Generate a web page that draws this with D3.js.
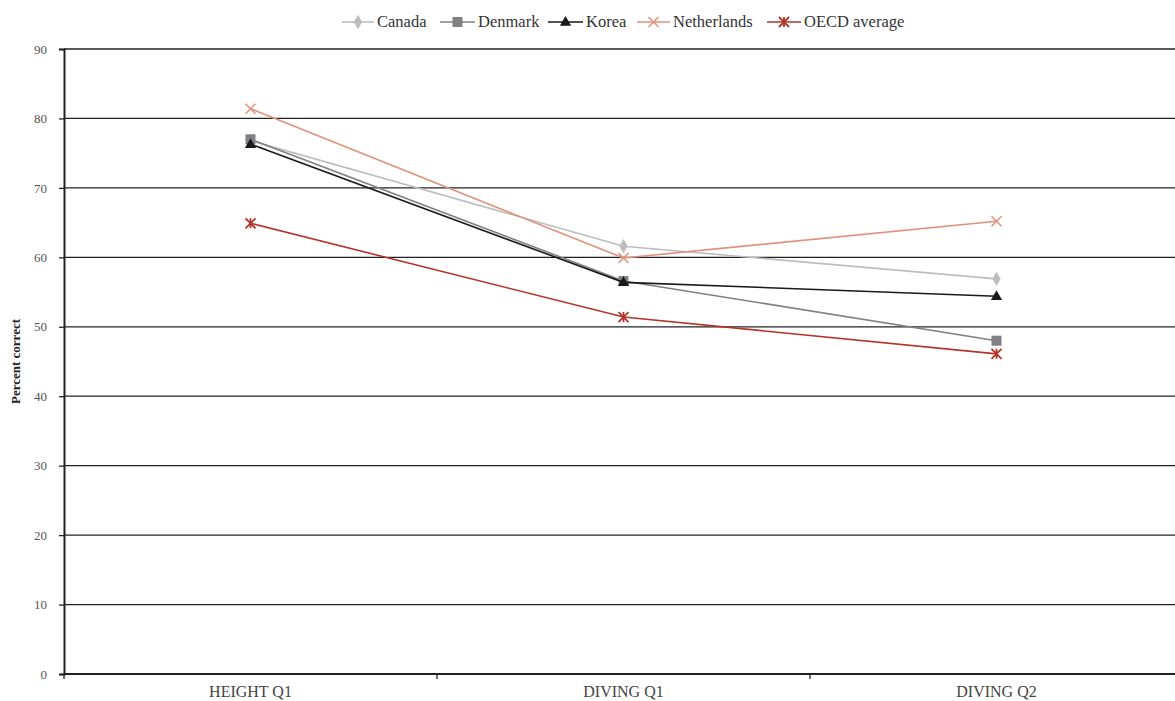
<!DOCTYPE html>
<html><head><meta charset="utf-8">
<script src="https://cdn.jsdelivr.net/npm/d3@7/dist/d3.min.js"></script>
<style>body{margin:0;background:#fff;} svg{display:block;} text{font-family:"Liberation Serif","DejaVu Serif",serif;}</style>
</head><body>
<script>
const categories = ["HEIGHT Q1","DIVING Q1","DIVING Q2"];
const seriesNames = ["Canada","Denmark","Korea","Netherlands","OECD average"];
const canada = [76.8, 61.6, 56.9];
const denmark = [77.0, 56.6, 48.0];
const korea = [76.3, 56.4, 54.4];
const netherlands = [81.4, 59.9, 65.2];
const oecd = [64.9, 51.4, 46.1];
const yTicks = [0,10,20,30,40,50,60,70,80,90];

const colors = ["#bdbdbd","#808085","#1a1a1a","#e2917c","#b5342a"];
const symbols = ["diamond","square","triangle","x","star"];
const data = [canada, denmark, korea, netherlands, oecd];
const FONT = '"Liberation Serif","DejaVu Serif",serif';

const W = 1175, H = 701;
const svg = d3.select("body").append("svg").attr("width",W).attr("height",H);
const mLeft = 64, mTop = 49, mBottom = 674;
const x = d3.scaleBand().domain(categories).range([mLeft, mLeft + 3*373]);
const y = d3.scaleLinear().domain([0,90]).range([mBottom, mTop]);

// gridlines
svg.append("g").selectAll("line").data(yTicks.filter(d=>d>0)).join("line")
  .attr("x1", mLeft).attr("x2", W).attr("y1", d=>y(d)).attr("y2", d=>y(d))
  .attr("stroke","#222").attr("stroke-width",1.3);

// y axis
const ya = svg.append("g").attr("transform",`translate(${mLeft},0)`)
  .call(d3.axisLeft(y).tickValues(yTicks).tickSize(5).tickPadding(12));
ya.select(".domain").attr("stroke","#222").attr("stroke-width",2);
ya.selectAll(".tick line").attr("stroke","#222").attr("stroke-width",1.3);
ya.selectAll("text").attr("font-size",13).attr("fill","#555").attr("font-family",FONT);

// x axis
const xa = svg.append("g").attr("transform",`translate(0,${mBottom})`)
  .call(d3.axisBottom(x).tickSize(0).tickPadding(12));
xa.select(".domain").remove();
xa.selectAll("text").attr("font-size",16).attr("fill","#444").attr("font-family",FONT);
svg.append("line").attr("x1",mLeft).attr("x2",W).attr("y1",mBottom).attr("y2",mBottom).attr("stroke","#222").attr("stroke-width",2);
svg.append("g").selectAll("line").data(categories).join("line")
  .attr("x1",d=>x(d)).attr("x2",d=>x(d)).attr("y1",mBottom).attr("y2",mBottom+5)
  .attr("stroke","#222").attr("stroke-width",1.3);

// y title
svg.append("text").attr("transform",`translate(20,${(mTop+mBottom)/2}) rotate(-90)`)
  .attr("text-anchor","middle").attr("font-size",13).attr("font-weight","bold").attr("fill","#222")
  .attr("font-family",FONT).text("Percent correct");

function marker(g, sym, color, cx, cy){
  if(sym==="diamond"){
    g.append("path").attr("d",d3.symbol(d3.symbolDiamond,60)()).attr("transform",`translate(${cx},${cy})`).attr("fill",color);
  } else if(sym==="square"){
    g.append("rect").attr("x",cx-5).attr("y",cy-5).attr("width",10).attr("height",10).attr("fill",color);
  } else if(sym==="triangle"){
    g.append("path").attr("d",d3.symbol(d3.symbolTriangle,55)()).attr("transform",`translate(${cx},${cy+0.5})`).attr("fill",color);
  } else if(sym==="x"){
    g.append("path").attr("d",`M${cx-5},${cy-5}L${cx+5},${cy+5}M${cx-5},${cy+5}L${cx+5},${cy-5}`).attr("stroke",color).attr("stroke-width",1.5);
  } else {
    g.append("path").attr("d",`M${cx-5},${cy-5}L${cx+5},${cy+5}M${cx-5},${cy+5}L${cx+5},${cy-5}M${cx},${cy-5}L${cx},${cy+5}`).attr("stroke",color).attr("stroke-width",1.8);
  }
}

const cx = c => x(c) + x.bandwidth()/2;
const line = d3.line().x((d,i)=>cx(categories[i])).y(d=>y(d));
data.forEach((vals, si) => {
  const g = svg.append("g");
  g.append("path").datum(vals).attr("d", line).attr("fill","none").attr("stroke",colors[si]).attr("stroke-width",1.6);
  vals.forEach((v,i)=> marker(g, symbols[si], colors[si], cx(categories[i]), y(v)));
});

// legend
const legendLineX = [342, 440, 548, 637, 767];
const legendTextX = [377, 478, 586, 673, 804];
const lg = svg.append("g");
seriesNames.forEach((n,i)=>{
  const lx = legendLineX[i], ly = 22;
  lg.append("line").attr("x1",lx).attr("x2",legendTextX[i]-3).attr("y1",ly).attr("y2",ly).attr("stroke",colors[i]).attr("stroke-width",1.6);
  marker(lg, symbols[i], colors[i], (lx+legendTextX[i]-3)/2, ly);
  lg.append("text").attr("x",legendTextX[i]).attr("y",ly+5).attr("font-size",16.5).attr("fill","#333")
    .attr("font-family",FONT).text(n);
});
</script>
</body></html>
